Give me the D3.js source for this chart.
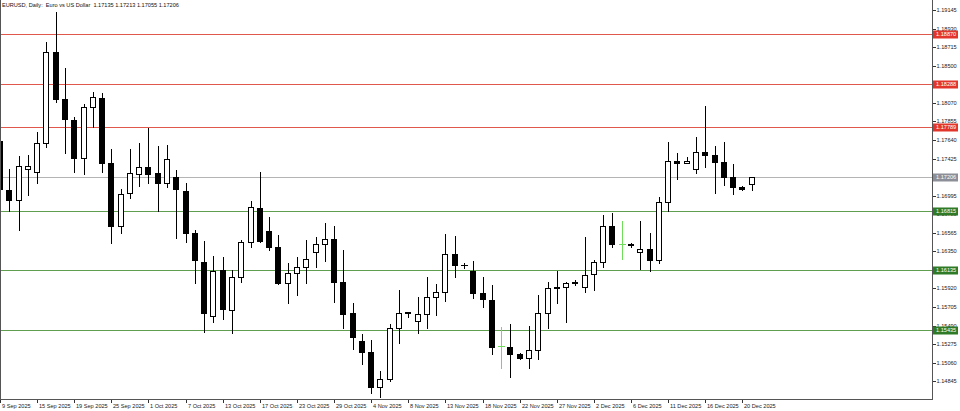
<!DOCTYPE html>
<html><head><meta charset="utf-8">
<script src="https://cdn.jsdelivr.net/npm/d3@7"></script>
<style>html,body{margin:0;padding:0;background:#fff;overflow:hidden}svg{display:block;font-family:"Liberation Sans",Arial,sans-serif}</style>
</head><body><svg id="c" width="960" height="411"></svg>
<script>
const dates = ["9 Sep 2025","10 Sep 2025","11 Sep 2025","12 Sep 2025","15 Sep 2025","16 Sep 2025","17 Sep 2025","18 Sep 2025","19 Sep 2025","22 Sep 2025",
"23 Sep 2025","24 Sep 2025","25 Sep 2025","26 Sep 2025","29 Sep 2025","30 Sep 2025","1 Oct 2025","2 Oct 2025","3 Oct 2025","6 Oct 2025",
"7 Oct 2025","8 Oct 2025","9 Oct 2025","10 Oct 2025","13 Oct 2025","14 Oct 2025","15 Oct 2025","16 Oct 2025","17 Oct 2025","20 Oct 2025",
"21 Oct 2025","22 Oct 2025","23 Oct 2025","24 Oct 2025","27 Oct 2025","28 Oct 2025","29 Oct 2025","30 Oct 2025","31 Oct 2025","3 Nov 2025",
"4 Nov 2025","5 Nov 2025","6 Nov 2025","7 Nov 2025","8 Nov 2025","10 Nov 2025","11 Nov 2025","12 Nov 2025","13 Nov 2025","14 Nov 2025",
"16 Nov 2025","17 Nov 2025","18 Nov 2025","19 Nov 2025","20 Nov 2025","21 Nov 2025","22 Nov 2025","24 Nov 2025","25 Nov 2025","26 Nov 2025",
"27 Nov 2025","28 Nov 2025","29 Nov 2025","1 Dec 2025","2 Dec 2025","3 Dec 2025","4 Dec 2025","5 Dec 2025","6 Dec 2025","8 Dec 2025",
"9 Dec 2025","10 Dec 2025","11 Dec 2025","12 Dec 2025","13 Dec 2025","15 Dec 2025","16 Dec 2025","17 Dec 2025","18 Dec 2025","19 Dec 2025",
"20 Dec 2025","22 Dec 2025"];
const open = [1.17628,1.17061,1.16945,1.17308,1.17273,1.17602,1.18663,1.18115,1.17872,1.17428,
1.18019,1.18130,1.17370,1.16647,1.17023,1.17246,1.17331,1.17254,1.17138,1.17215,
1.17053,1.16559,1.16230,1.15601,1.16134,1.15671,1.16057,1.16455,1.16856,1.16589,
1.16404,1.15987,1.16096,1.16165,1.16339,1.16435,1.16497,1.15995,1.15633,1.15315,
1.15181,1.14782,1.14868,1.15459,1.15644,1.15547,1.15621,1.15818,1.15876,1.16316,
1.16196,1.16123,1.15871,1.15787,1.15254,1.15246,1.15161,1.15111,1.15207,1.15633,
1.15937,1.15941,1.15996,1.15941,1.16088,1.16230,1.16644,1.16435,1.16436,1.16339,
1.16374,1.16250,1.16925,1.17400,1.17377,1.17304,1.17498,1.17466,1.17389,1.17208,
1.17092,1.17135];
const high = [1.17686,1.17304,1.17455,1.17466,1.17736,1.18779,1.19126,1.18471,1.17910,1.18057,
1.18200,1.18188,1.17532,1.17069,1.17532,1.17609,1.17782,1.17570,1.17579,1.17293,
1.17138,1.16598,1.16474,1.16296,1.16281,1.16134,1.16482,1.16937,1.17266,1.16745,
1.16540,1.16219,1.16288,1.16482,1.16513,1.16682,1.16644,1.16366,1.15755,1.15393,
1.15323,1.14968,1.15509,1.15903,1.15651,1.15818,1.16050,1.15969,1.16551,1.16528,
1.16219,1.16242,1.16057,1.15960,1.15477,1.15509,1.15173,1.15486,1.15845,1.15999,
1.16126,1.15999,1.16018,1.16513,1.16250,1.16771,1.16798,1.16705,1.16450,1.16705,
1.16559,1.16983,1.17613,1.17486,1.17440,1.17678,1.18034,1.17574,1.17620,1.17362,
1.17107,1.17213];
const low = [1.17038,1.16818,1.16598,1.17003,1.17145,1.17562,1.18080,1.17493,1.17273,1.17246,
1.17787,1.17273,1.16443,1.16559,1.16965,1.17107,1.17145,1.16821,1.17099,1.16501,
1.16462,1.15980,1.15420,1.15535,1.15563,1.15408,1.15999,1.16397,1.16462,1.16366,
1.15972,1.15755,1.15845,1.15987,1.16165,1.16242,1.15767,1.15459,1.15216,1.15042,
1.14713,1.14667,1.14852,1.15285,1.15586,1.15401,1.15459,1.15613,1.15779,1.16050,
1.16154,1.15806,1.15709,1.15161,1.14995,1.14898,1.15103,1.15002,1.15100,1.15459,
1.15748,1.15535,1.15960,1.15883,1.15903,1.16172,1.16397,1.16258,1.16397,1.16146,
1.16126,1.16212,1.16821,1.17185,1.17374,1.17254,1.17331,1.17023,1.17119,1.17011,
1.17055,1.17055];
const close = [1.17072,1.16945,1.17339,1.17339,1.17602,1.18663,1.18115,1.17880,1.17428,1.18026,
1.18142,1.17370,1.16644,1.17015,1.17254,1.17331,1.17246,1.17138,1.17416,1.17069,
1.16559,1.16250,1.15633,1.16126,1.15679,1.16057,1.16462,1.16860,1.16474,1.16397,
1.15980,1.16096,1.16165,1.16262,1.16435,1.16497,1.15995,1.15625,1.15362,1.15181,
1.14782,1.14868,1.15459,1.15633,1.15636,1.15621,1.15818,1.15876,1.16316,1.16189,
1.16188,1.15871,1.15795,1.15246,1.15254,1.15161,1.15111,1.15207,1.15640,1.15922,
1.15929,1.15987,1.15988,1.16080,1.16230,1.16644,1.16435,1.16435,1.16428,1.16374,
1.16250,1.16925,1.17400,1.17377,1.17400,1.17498,1.17466,1.17382,1.17208,1.17092,
1.17069,1.17206];
const yTicks = [1.19145,1.18930,1.18715,1.18500,1.18285,1.18070,1.17855,1.17640,1.17425,1.17210,1.16995,
1.16780,1.16565,1.16350,1.16135,1.15920,1.15705,1.15490,1.15275,1.15060,1.14845];
const resistance = [1.18870,1.18288,1.17789];
const support = [1.16815,1.16135,1.15435];
const lastPrice = 1.17206;
const title = "EURUSD, Daily:  Euro vs US Dollar  1.17135 1.17213 1.17055 1.17206";

const R = 932, B = 399, FS = 5.6;
const svg = d3.select("#c");
svg.append("rect").attr("width",960).attr("height",411).attr("fill","#fff");

const x = d3.scalePoint().domain(dates).range([0, 81*9.28]);
const y = d3.scaleLinear().domain([1.14845,1.19145]).range([381.3,10]);
const snap = v => Math.round(v) + 0.5;

svg.append("clipPath").attr("id","cp").append("rect").attr("x",1).attr("y",0).attr("width",R-1).attr("height",B);
const plot = svg.append("g").attr("clip-path","url(#cp)").attr("shape-rendering","crispEdges");

// level lines
const lv = [];
resistance.forEach(p => lv.push({p, line:"#e0574c", box:"#e2362c", txt:"#fff"}));
support.forEach(p => lv.push({p, line:"#5f9e4f", box:"#2f7a27", txt:"#fff"}));
lv.push({p:lastPrice, line:"#b4b4b4", box:"#8c8f98", txt:"#fff"});
plot.selectAll("line.lv").data(lv).join("line").attr("class","lv")
  .attr("x1",0).attr("x2",R).attr("y1",d=>snap(y(d.p))).attr("y2",d=>snap(y(d.p)))
  .attr("stroke",d=>d.line).attr("stroke-width",1);

// candles
const bars = dates.map((d,i)=>({d,o:open[i],h:high[i],l:low[i],c:close[i]}));
const g = plot.selectAll("g.bar").data(bars).join("g").attr("class","bar");
const col = b => b.o===b.c ? "#6fdc5a" : "#000";
g.append("line")
  .attr("x1",b=>snap(x(b.d))).attr("x2",b=>snap(x(b.d)))
  .attr("y1",b=>Math.round(y(b.h))).attr("y2",b=>Math.round(y(b.l))+1)
  .attr("stroke",col).attr("stroke-width",1);
g.each(function(b){
  const cx = Math.round(x(b.d));
  const t = Math.round(y(Math.max(b.o,b.c))), bt = Math.round(y(Math.min(b.o,b.c)));
  const sel = d3.select(this);
  if (bt - t < 1) {
    sel.append("line").attr("x1",cx-3).attr("x2",cx+4).attr("y1",t+0.5).attr("y2",t+0.5)
      .attr("stroke",col(b)).attr("stroke-width",1);
  } else {
    sel.append("rect").attr("x",cx-2.5).attr("y",t+0.5).attr("width",5).attr("height",bt-t)
      .attr("fill", b.c>b.o ? "#fff" : "#000").attr("stroke","#000").attr("stroke-width",1);
  }
});

// frame
const fr = svg.append("g").attr("shape-rendering","crispEdges").attr("stroke","#555");
fr.append("line").attr("x1",0.5).attr("x2",0.5).attr("y1",0).attr("y2",B+1);
fr.append("line").attr("x1",0).attr("x2",R+1).attr("y1",B+0.5).attr("y2",B+0.5);
fr.append("line").attr("x1",R+0.5).attr("x2",R+0.5).attr("y1",0).attr("y2",B+1);

// y axis
const ya = svg.append("g").attr("transform",`translate(${R+0.5},0)`)
  .call(d3.axisRight(y).tickValues(yTicks).tickSize(3).tickPadding(1).tickFormat(d3.format(".5f")));
ya.select(".domain").remove();
ya.selectAll(".tick line").attr("stroke","#333").attr("shape-rendering","crispEdges");
ya.selectAll(".tick").attr("transform",d=>`translate(0,${snap(y(d))})`);
ya.selectAll("text").attr("font-size",FS).attr("font-family","Liberation Sans, Arial, sans-serif").attr("fill","#222").attr("dy","0.35em");

// level labels
const lb = svg.selectAll("g.lb").data(lv).join("g").attr("class","lb")
  .attr("transform",d=>`translate(${R+1},${snap(y(d.p))})`);
lb.append("rect").attr("x",0).attr("y",-4).attr("width",25).attr("height",8).attr("fill",d=>d.box);
lb.append("text").attr("x",3).attr("y",0).attr("dy","0.35em").attr("font-size",FS).attr("fill",d=>d.txt)
  .text(d=>d3.format(".5f")(d.p));

// x axis
const xt = dates.filter((d,i)=>i%4===0);
const xa = svg.append("g").attr("transform",`translate(0,${B+0.5})`)
  .call(d3.axisBottom(x).tickValues(xt).tickSize(3).tickPadding(2));
xa.select(".domain").remove();
xa.selectAll(".tick").attr("transform",d=>`translate(${snap(x(d))},0)`);
xa.selectAll(".tick line").attr("stroke","#333").attr("shape-rendering","crispEdges");
xa.selectAll("text").attr("font-size",FS).attr("font-family","Liberation Sans, Arial, sans-serif").attr("fill","#222")
  .attr("text-anchor","start").attr("x",1.5).attr("y",8.5).attr("dy","0");

// title
svg.append("text").attr("x",2).attr("y",7).attr("font-size",FS).attr("fill","#111").attr("xml:space","preserve").style("white-space","pre").text(title);
</script></body></html>
